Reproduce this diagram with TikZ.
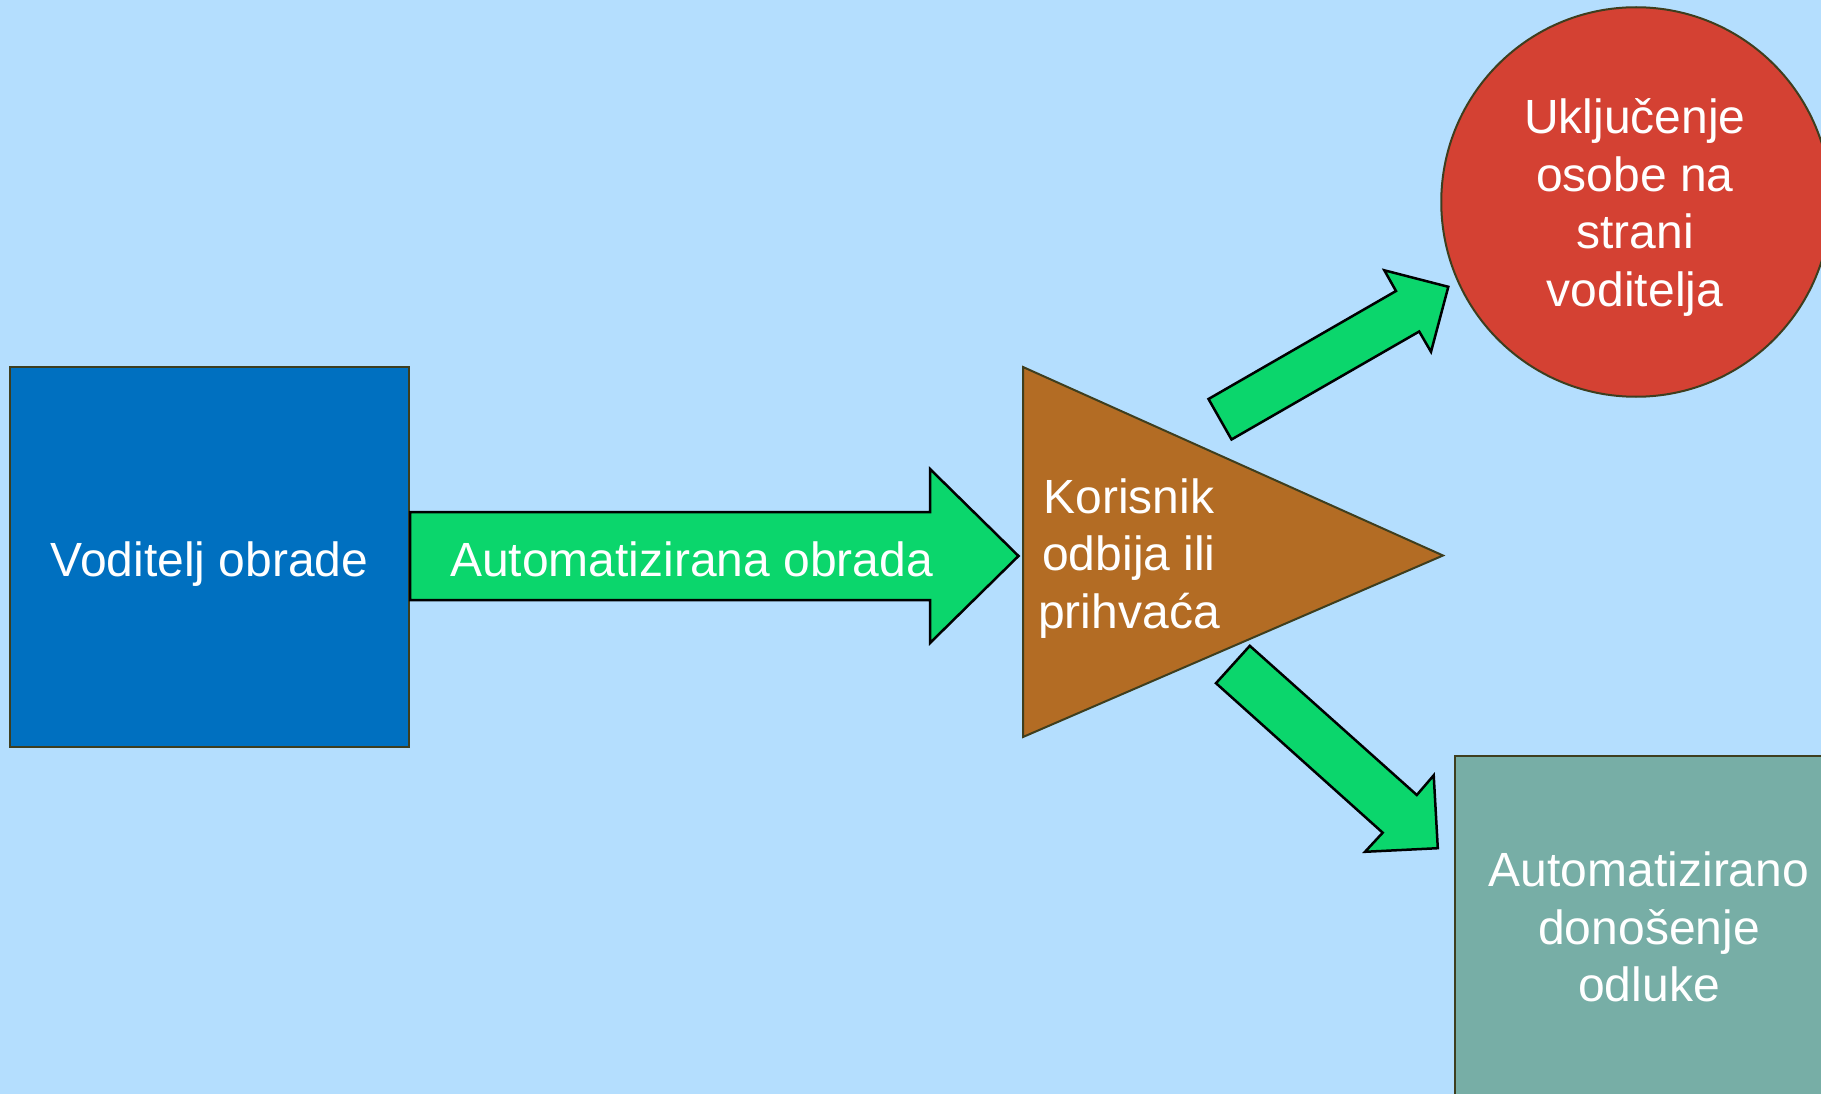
\documentclass[tikz,border=0pt]{standalone}
\usepackage{fontspec}
\setmainfont{Liberation Sans}
\definecolor{sky}{RGB}{180,222,254}
\definecolor{ctrlblue}{RGB}{0,112,192}
\definecolor{flowgreen}{RGB}{11,214,108}
\definecolor{decbrown}{RGB}{179,108,36}
\definecolor{humanred}{RGB}{212,65,51}
\definecolor{autoteal}{RGB}{119,174,166}
\definecolor{edgeolive}{RGB}{62,62,30}
\tikzset{
  shapeline/.style={draw=edgeolive, line width=2pt},
  boxnode/.style={shapeline, rectangle, inner sep=0pt},
  blockarrow/.style={draw=black, line width=2.5pt, fill=flowgreen, line join=miter},
  caption/.style={text=white, font=\fontsize{48}{57.5}\selectfont, align=center, inner sep=0pt},
}
\begin{document}
\begin{tikzpicture}[x=1pt, y=-1pt]
\useasboundingbox (0,0) rectangle (1821,1094);
\clip (0,0) rectangle (1821,1094);
\fill[sky] (0,0) rectangle (1821,1094);

% controller box
\node[boxnode, fill=ctrlblue, minimum width=399pt, minimum height=380pt] (ctrl) at (209.5,557) {};
\node[caption, anchor=base] (ctrltxt) at (209.5,576.5) {Voditelj obrade};

% decision triangle
\coordinate (triTop) at (1023,367);
\coordinate (triTip) at (1443,555.5);
\coordinate (triBot) at (1023,737);
\draw[shapeline, fill=decbrown] (triTop) -- (triTip) -- (triBot) -- cycle;
\node[caption] (dectxt) at (1129,558.5) {Korisnik\\odbija ili\\prihvaća};

% human intervention circle
\node[shapeline, circle, fill=humanred, minimum size=389.5pt, inner sep=0pt] (human) at (1636,202) {};
\node[caption] (humantxt) at (1635,207.5) {Uključenje\\osobe na\\strani\\voditelja};

% automated decision box
\node[boxnode, fill=autoteal, minimum width=388pt, minimum height=394pt] (auto) at (1649,953) {};
\node[caption] (autotxt) at (1649,927) {Automatizirano\\donošenje\\odluke};

% main processing arrow
\draw[blockarrow] (ctrl.east |- 0,512) -- (930,512) -- (930,469) -- (1018.5,556)
  -- (930,643) -- (930,600) -- (ctrl.east |- 0,600) -- cycle;
\node[caption, anchor=base] (proctxt) at (691.5,576.5) {Automatizirana obrada};

% arrow towards the human intervention
\draw[blockarrow] (1208.5,399) -- (1396,291) -- (1384.3,270.3) -- (1448.3,286.8)
  -- (1431,351.8) -- (1419.2,331.5) -- (1231.5,439.5) -- cycle;

% arrow towards the automated decision
\draw[blockarrow] (1249.8,645.8) -- (1416.8,795) -- (1433.7,775.3) -- (1437.8,848.2)
  -- (1365,851.8) -- (1382.7,832.7) -- (1216,683.2) -- cycle;
\end{tikzpicture}
\end{document}
